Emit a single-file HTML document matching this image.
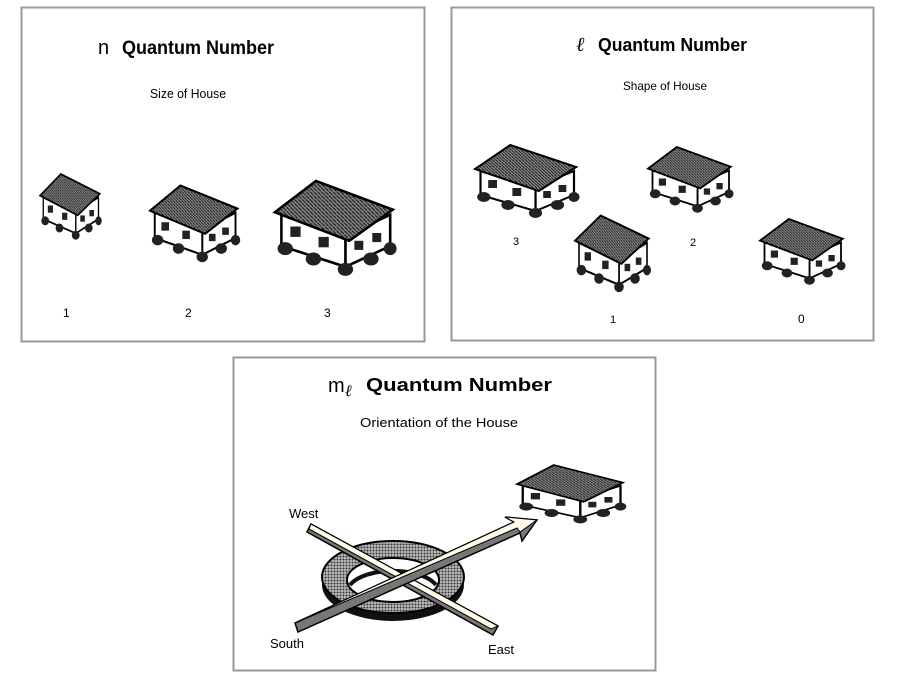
<!DOCTYPE html>
<html><head><meta charset="utf-8"><style>
body{margin:0;background:#fff;width:915px;height:689px;overflow:hidden;font-family:"Liberation Sans",Arial,sans-serif}
</style></head><body>
<svg width="915" height="689" xmlns="http://www.w3.org/2000/svg" font-family="Liberation Sans, Arial, sans-serif">
<defs>
<pattern id="hatch" width="3" height="3" patternUnits="userSpaceOnUse"><rect width="3" height="3" fill="#888"/><path d="M0 0L3 3" stroke="#222" stroke-width="1"/></pattern>
<pattern id="dots" width="3" height="3" patternUnits="userSpaceOnUse"><rect width="3" height="3" fill="#bbb"/><circle cx="1.5" cy="1.5" r="1" fill="#333"/></pattern>
<g id="house">
<polygon points="55,52 90,36 90,60 55,76" fill="#fff" stroke="#000" stroke-width="2"/>
<polygon points="5,36 55,54 55,76 5,60" fill="#fff" stroke="#000" stroke-width="2"/>
<polygon points="0,34 32,10 92,32 58,56" fill="url(#hatch)" stroke="#000" stroke-width="2"/>
<rect x="12" y="45" width="8" height="8" fill="#222"/><rect x="34" y="53" width="8" height="8" fill="#222"/>
<rect x="62" y="56" width="7" height="7" fill="#222"/><rect x="76" y="50" width="7" height="7" fill="#222"/>
<ellipse cx="8" cy="62" rx="6" ry="5" fill="#222"/><ellipse cx="30" cy="70" rx="6" ry="5" fill="#222"/><ellipse cx="55" cy="78" rx="6" ry="5" fill="#222"/><ellipse cx="75" cy="70" rx="6" ry="5" fill="#222"/><ellipse cx="90" cy="62" rx="5" ry="5" fill="#222"/>
</g>
</defs>
<rect x="21.5" y="7.5" width="403" height="334" fill="#fff" stroke="#999" stroke-width="2"/>
<rect x="451.5" y="7.5" width="422" height="333" fill="#fff" stroke="#999" stroke-width="2"/>
<rect x="233.5" y="357.5" width="422" height="313" fill="#fff" stroke="#999" stroke-width="2"/>

<text x="98" y="54" font-size="20">n</text>
<text x="122" y="54" font-size="19" font-weight="bold" textLength="152" lengthAdjust="spacingAndGlyphs">Quantum Number</text>
<text x="150" y="98" font-size="13" textLength="76" lengthAdjust="spacingAndGlyphs">Size of House</text>
<use href="#house" transform="translate(40,165) scale(0.65,0.9)"/>
<use href="#house" transform="translate(150,175) scale(0.95,1.05)"/>
<use href="#house" transform="translate(275,168) scale(1.28,1.3)"/>
<text x="63" y="317" font-size="12">1</text><text x="185" y="317" font-size="12">2</text><text x="324" y="317" font-size="12">3</text>

<text x="576" y="51" font-size="20" font-style="italic" font-family="Liberation Serif, serif">ℓ</text>
<text x="598" y="51" font-size="18" font-weight="bold" textLength="149" lengthAdjust="spacingAndGlyphs">Quantum Number</text>
<text x="623" y="90" font-size="12" textLength="84" lengthAdjust="spacingAndGlyphs">Shape of House</text>
<use href="#house" transform="translate(475,135) scale(1.1,1)"/>
<use href="#house" transform="translate(575,205) scale(0.8,1.05)"/>
<use href="#house" transform="translate(648,138) scale(0.9,0.9)"/>
<use href="#house" transform="translate(760,210) scale(0.9,0.9)"/>
<text x="513" y="245" font-size="11">3</text><text x="690" y="246" font-size="11">2</text>
<text x="610" y="323" font-size="11">1</text><text x="798" y="323" font-size="12">0</text>

<text x="328" y="392" font-size="20">m</text><text x="345" y="396" font-size="16" font-style="italic" font-family="Liberation Serif, serif">ℓ</text>
<text x="366" y="391" font-size="18" font-weight="bold" textLength="186" lengthAdjust="spacingAndGlyphs">Quantum Number</text>
<text x="360" y="427" font-size="13" textLength="158" lengthAdjust="spacingAndGlyphs">Orientation of the House</text>

<ellipse cx="393" cy="585" rx="71" ry="36" fill="#111"/>
<ellipse cx="393" cy="577" rx="71" ry="36" fill="url(#dots)" stroke="#000" stroke-width="2"/>
<ellipse cx="393" cy="580" rx="46" ry="22" fill="#fff" stroke="#000" stroke-width="2"/>
<path d="M350 585 A46 22 0 0 1 436 585" fill="none" stroke="#111" stroke-width="4"/>
<polygon points="311,524 307,532 493,635 498,626" fill="#777" stroke="#000" stroke-width="1.5"/>
<polygon points="311,524 498,626 491,629 309,529" fill="#fffbe8" stroke="#000" stroke-width="1"/>
<polygon points="295,623 298,632 520,533 522,541 537,520 505,517 514,522" fill="#777" stroke="#000" stroke-width="1.5"/>
<polygon points="295,623 514,522 505,517 537,520 520,532 517,528" fill="#fffbe8" stroke="#000" stroke-width="1"/>
<use href="#house" transform="translate(517,457) scale(1.15,0.8)"/>
<text x="289" y="518" font-size="13">West</text>
<text x="270" y="648" font-size="13">South</text>
<text x="488" y="654" font-size="13">East</text>
</svg>
</body></html>
